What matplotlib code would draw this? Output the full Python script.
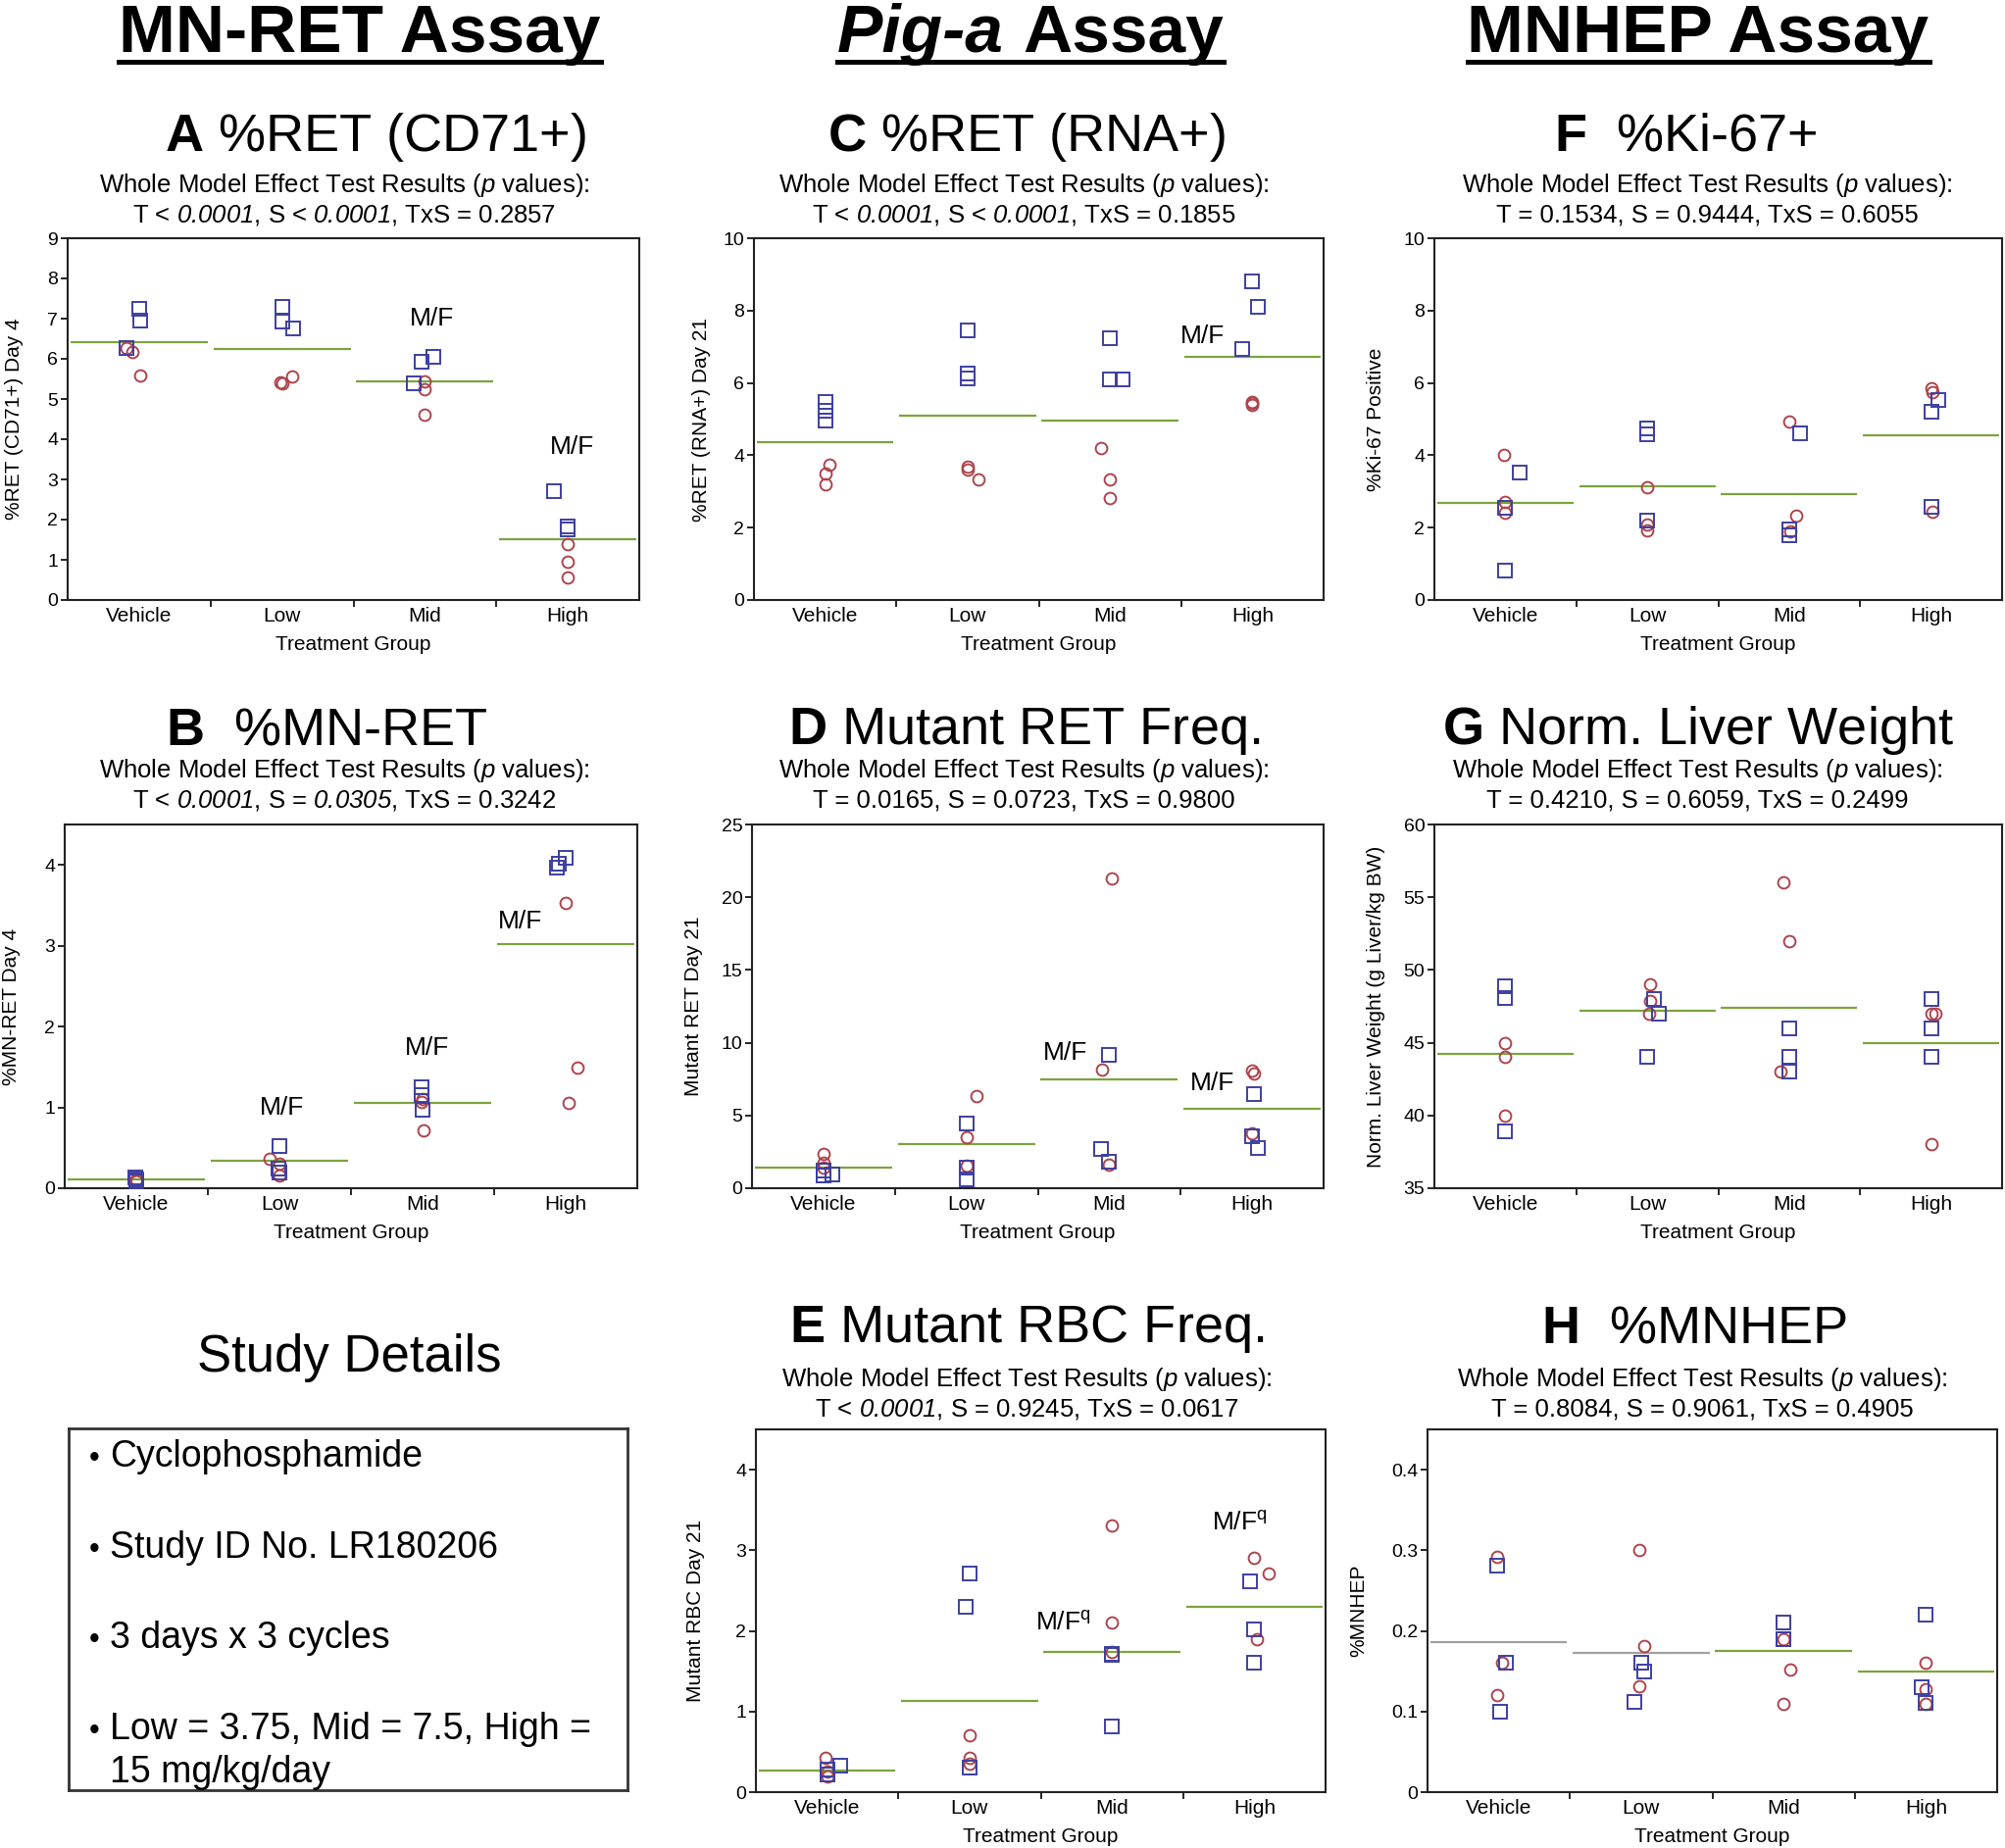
import matplotlib
matplotlib.use('Agg')
import matplotlib.pyplot as plt
from matplotlib.lines import Line2D

plt.rcParams['font.family'] = ['Liberation Sans', 'DejaVu Sans']
plt.rcParams['mathtext.fontset'] = 'custom'
plt.rcParams['mathtext.rm'] = 'Liberation Sans:italic'
plt.rcParams['mathtext.it'] = 'Liberation Sans:italic'
plt.rcParams['mathtext.sf'] = 'Liberation Sans'
plt.rcParams['mathtext.bf'] = 'Liberation Sans:bold'

groups = ['Vehicle', 'Low', 'Mid', 'High']

# A  %RET (CD71+) Day 4
a_male = [[7.25, 6.95, 6.27], [7.30, 6.92, 6.76], [5.93, 6.05, 5.38], [2.70, 1.82, 1.75]]
a_female = [[6.28, 6.17, 5.58], [5.42, 5.57, 5.40], [5.45, 5.24, 4.62], [1.38, 0.94, 0.56]]
a_mean = [6.42, 6.24, 5.43, 1.50]

# B  %MN-RET Day 4
b_male = [[0.13, 0.09, 0.11], [0.52, 0.24, 0.20], [1.25, 1.15, 0.97], [4.09, 3.97, 4.02]]
b_female = [[0.11, 0.10, 0.08], [0.36, 0.30, 0.16], [1.07, 1.10, 0.71], [3.53, 1.49, 1.05]]
b_mean = [0.11, 0.34, 1.05, 3.02]

# C  %RET (RNA+) Day 21
c_male = [[5.48, 5.23, 4.97], [7.44, 6.27, 6.13], [7.23, 6.10, 6.10], [8.82, 8.10, 6.93]]
c_female = [[3.73, 3.50, 3.19], [3.69, 3.60, 3.33], [4.21, 3.33, 2.82], [5.48, 5.40, 5.45]]
c_mean = [4.35, 5.09, 4.97, 6.72]

# D  Mutant RET Day 21
d_male = [[1.20, 0.93, 0.86], [4.48, 1.43, 0.63], [9.16, 2.67, 1.81], [6.50, 3.57, 2.78]]
d_female = [[2.33, 1.76, 1.43], [6.33, 3.50, 1.54], [21.3, 8.14, 1.65], [8.10, 7.87, 3.80]]
d_mean = [1.43, 3.00, 7.49, 5.43]

# E  Mutant RBC Day 21
e_male = [[0.33, 0.28, 0.22], [2.71, 2.30, 0.30], [1.72, 1.70, 0.81], [2.61, 2.02, 1.61]]
e_female = [[0.43, 0.26, 0.20], [0.71, 0.43, 0.35], [3.31, 2.10, 1.74], [2.91, 2.71, 1.90]]
e_mean = [0.27, 1.13, 1.74, 2.30]

# F  %Ki-67 positive
f_male = [[3.51, 2.55, 0.80], [4.75, 4.57, 2.20], [4.61, 1.95, 1.78], [5.52, 5.20, 2.58]]
f_female = [[4.02, 2.71, 2.42], [3.13, 2.10, 1.93], [4.94, 2.33, 1.90], [5.86, 5.74, 2.45]]
f_mean = [2.68, 3.15, 2.92, 4.54]

# G  normalised liver weight
g_male = [[48.9, 48.1, 38.9], [48.0, 47.0, 44.0], [46.0, 44.0, 43.0], [48.0, 46.0, 44.0]]
g_female = [[45.0, 44.0, 40.0], [49.0, 47.9, 47.0], [56.0, 52.0, 43.0], [47.0, 47.0, 38.0]]
g_mean = [44.2, 47.2, 47.4, 45.0]

# H  %MNHEP
h_male = [[0.281, 0.161, 0.100], [0.161, 0.150, 0.112], [0.210, 0.190, 0.190], [0.220, 0.130, 0.111]]
h_female = [[0.292, 0.161, 0.121], [0.300, 0.181, 0.131], [0.190, 0.152, 0.110], [0.161, 0.128, 0.110]]
h_mean = [0.186, 0.173, 0.175, 0.149]

# horizontal jitter of the points (fraction of a group width)
a_jm = [[0, 0.01, -0.09], [0, 0, 0.08], [-0.02, 0.06, -0.08], [-0.1, 0, 0]]
a_jf = [[-0.09, -0.05, 0.01], [-0.01, 0.07, 0], [0, 0, 0], [0, 0, 0]]
b_jm = [[-0.01, 0, 0], [0, -0.01, 0], [-0.01, -0.01, 0], [0, -0.06, -0.05]]
b_jf = [[0, 0, 0], [-0.07, 0, 0], [-0.01, 0, 0.01], [0, 0.08, 0.02]]
c_jm = [[0, 0, 0], [0, 0, 0], [0, 0, 0.09], [0, 0.04, -0.07]]
c_jf = [[0.03, 0, 0], [0, 0, 0.08], [-0.06, 0, 0], [0, 0, 0]]
d_jm = [[0, 0.06, 0], [0, 0, 0], [0, -0.06, 0], [0.01, 0, 0.04]]
d_jf = [[0, 0, 0], [0.07, 0, 0], [0.02, -0.05, 0], [0, 0.01, 0]]
e_jm = [[0.09, 0, 0], [0, -0.03, 0], [0, 0, 0], [-0.03, 0, 0]]
e_jf = [[-0.01, 0, 0], [0, 0, 0], [0, 0, 0], [0, 0.1, 0.02]]
f_jm = [[0.1, 0, 0], [0, 0, 0], [0.08, 0, 0], [0.05, 0, 0]]
f_jf = [[-0.01, 0, 0], [0, 0, 0], [0, 0.05, 0.01], [0, 0.01, 0.01]]
g_jm = [[0, 0, 0], [0.05, 0.08, 0], [0, 0, 0], [0, 0, 0]]
g_jf = [[0, 0, 0], [0.02, 0.02, 0.01], [-0.04, 0, -0.06], [0, 0.03, 0]]
h_jm = [[-0.01, 0.05, 0.01], [0, 0.02, -0.05], [0, 0, 0], [0, -0.03, 0]]
h_jf = [[-0.01, 0.02, -0.01], [-0.01, 0.02, -0.01], [0, 0.05, 0], [0, 0, 0]]

ylabels = {
    'A': '%RET (CD71+) Day 4', 'B': '%MN-RET Day 4', 'C': '%RET (RNA+) Day 21',
    'D': 'Mutant RET Day 21', 'E': 'Mutant RBC Day 21', 'F': '%Ki-67 Positive',
    'G': 'Norm. Liver Weight (g Liver/kg BW)', 'H': '%MNHEP',
}
titles = {
    'A': r'$\mathbf{A}$ %RET (CD71+)', 'B': r'$\mathbf{B}$  %MN-RET',
    'C': r'$\mathbf{C}$ %RET (RNA+)', 'D': r'$\mathbf{D}$ Mutant RET Freq.',
    'E': r'$\mathbf{E}$ Mutant RBC Freq.', 'F': r'$\mathbf{F}$  %Ki-67+',
    'G': r'$\mathbf{G}$ Norm. Liver Weight', 'H': r'$\mathbf{H}$  %MNHEP',
}
pvals = {
    'A': r'T < $0.0001$, S < $0.0001$, TxS = 0.2857',
    'B': r'T < $0.0001$, S = $0.0305$, TxS = 0.3242',
    'C': r'T < $0.0001$, S < $0.0001$, TxS = 0.1855',
    'D': 'T = 0.0165, S = 0.0723, TxS = 0.9800',
    'E': r'T < $0.0001$, S = 0.9245, TxS = 0.0617',
    'F': 'T = 0.1534, S = 0.9444, TxS = 0.6055',
    'G': 'T = 0.4210, S = 0.6059, TxS = 0.2499',
    'H': 'T = 0.8084, S = 0.9061, TxS = 0.4905',
}
yticks = {
    'A': [0, 1, 2, 3, 4, 5, 6, 7, 8, 9], 'B': [0, 1, 2, 3, 4],
    'C': [0, 2, 4, 6, 8, 10], 'D': [0, 5, 10, 15, 20, 25],
    'E': [0, 1, 2, 3, 4], 'F': [0, 2, 4, 6, 8, 10],
    'G': [35, 40, 45, 50, 55, 60], 'H': [0, 0.1, 0.2, 0.3, 0.4],
}
ylims = {'A': (0, 9), 'B': (0, 4.5), 'C': (0, 10), 'D': (0, 25),
         'E': (0, 4.5), 'F': (0, 10), 'G': (35, 60), 'H': (0, 0.45)}
notes = {
    'A': [(3.05, 7.0, 'M/F'), (4.03, 3.8, 'M/F')],
    'B': [(2.02, 0.99, 'M/F'), (3.03, 1.73, 'M/F'), (3.68, 3.3, 'M/F')],
    'C': [(3.65, 7.3, 'M/F')],
    'D': [(2.69, 9.3, 'M/F'), (3.72, 7.2, 'M/F')],
    'E': [(2.66, 2.09, r'M/F$^\mathsf{q}$'), (3.9, 3.33, r'M/F$^\mathsf{q}$')],
}

study_lines = ['Cyclophosphamide', 'Study ID No. LR180206', '3 days x 3 cycles',
               'Low = 3.75, Mid = 7.5, High =', '15 mg/kg/day']

panels = {
    'A': (a_male, a_female, a_mean, a_jm, a_jf),
    'B': (b_male, b_female, b_mean, b_jm, b_jf),
    'C': (c_male, c_female, c_mean, c_jm, c_jf),
    'D': (d_male, d_female, d_mean, d_jm, d_jf),
    'E': (e_male, e_female, e_mean, e_jm, e_jf),
    'F': (f_male, f_female, f_mean, f_jm, f_jf),
    'G': (g_male, g_female, g_mean, g_jm, g_jf),
    'H': (h_male, h_female, h_mean, h_jm, h_jf),
}

W, H = 2045, 1885
# box in pixels: left, top, right, bottom ; y label offset ; title centre x
layout = {
    'A': (69, 243, 652, 612, -45, 383),
    'C': (769, 243, 1350, 612, -44, 1047),
    'F': (1463, 243, 2042, 612, -50, 1719),
    'B': (66, 841, 650, 1212, -45, 333),
    'D': (767, 841, 1350, 1212, -50, 1045),
    'G': (1463, 841, 2042, 1212, -50, 1732),
    'E': (771, 1458, 1352, 1828, -52, 1047),
    'H': (1456, 1458, 2037, 1828, -61, 1728),
}
pv_center = {'A': 351, 'B': 351, 'C': 1044, 'D': 1044, 'E': 1047,
             'F': 1741, 'G': 1731, 'H': 1736}
row_y = {243: (154, 196, 227), 841: (759, 793, 823), 1458: (1369, 1414, 1444)}

BLUE = '#3d3fa0'
RED = '#ad444c'
GREEN = '#7ba43c'
GREY = '#a0a0a0'

fig = plt.figure(figsize=(W / 100, H / 100), dpi=100)


def ftext(x, y, s, **kw):
    return fig.text(x / W, 1 - y / H, s, **kw)


for key, (l, t, r, b, yoff, tx) in layout.items():
    male, female, mean, jm, jf = panels[key]
    ax = fig.add_axes([l / W, 1 - b / H, (r - l) / W, (b - t) / H])
    for i in range(4):
        col = GREEN
        if key == 'H' and i < 2:
            col = GREY
        ax.hlines(mean[i], i + 0.52, i + 1.48, color=col, lw=1.6, zorder=1)
        ax.plot([i + 1 + j for j in jf[i]], female[i], ls='none', marker='o',
                ms=8.5, mfc='none', mec=RED, mew=1.4, zorder=2)
        ax.plot([i + 1 + j for j in jm[i]], male[i], ls='none', marker='s',
                ms=9.5, mfc='none', mec=BLUE, mew=1.4, zorder=3)
    for x, y, s in notes.get(key, []):
        ax.text(x, y, s, fontsize=19, ha='center', va='center')

    ax.set_xlim(0.5, 4.5)
    ax.set_ylim(*ylims[key])
    ax.set_xticks([1, 2, 3, 4])
    ax.set_xticklabels(groups, fontsize=15)
    ax.set_xticks([1.5, 2.5, 3.5], minor=True)
    ax.tick_params(axis='x', which='major', length=0, pad=5)
    ax.tick_params(axis='x', which='minor', length=5, width=1.2, direction='out')
    ax.set_yticks(yticks[key])
    ax.set_yticklabels(['%g' % v for v in yticks[key]], fontsize=14)
    ax.tick_params(axis='y', length=5, width=1.2, direction='out', pad=2)
    for sp in ax.spines.values():
        sp.set_linewidth(1.5)
        sp.set_color('#222222')
    ax.set_xlabel('Treatment Group', fontsize=15, labelpad=7)
    ax.set_ylabel(ylabels[key], fontsize=15)
    ax.yaxis.set_label_coords(yoff / (r - l), 0.5)

    ty, p1, p2 = row_y[t]
    ftext(tx, ty, titles[key], fontsize=39, ha='center', va='baseline')
    ftext(pv_center[key], p1, r'Whole Model Effect Test Results ($p$ values):',
          fontsize=18.5, ha='center', va='baseline')
    ftext(pv_center[key], p2, pvals[key], fontsize=18.5, ha='center', va='baseline')

# column headers, underlined
renderer = fig.canvas.get_renderer()


def underline(x0, x1, y):
    fig.add_artist(Line2D([x0 / W, x1 / W], [1 - y / H, 1 - y / H], lw=3.6, color='black'))


for cx, label in [(367, 'MN-RET Assay'), (1732, 'MNHEP Assay')]:
    tt = ftext(cx, 53, label, fontsize=50, fontweight='bold', ha='center', va='baseline')
    bb = tt.get_window_extent(renderer)
    underline(bb.x0, bb.x1, 63)

t1 = ftext(0, 53, 'Pig-a', fontsize=50, fontweight='bold', style='italic', va='baseline')
t2 = ftext(0, 53, 'Assay', fontsize=50, fontweight='bold', va='baseline')
w1 = t1.get_window_extent(renderer).width
w2 = t2.get_window_extent(renderer).width
gap = 19
x0 = 1051 - (w1 + gap + w2) / 2
t1.set_x(x0 / W)
t2.set_x((x0 + w1 + gap) / W)
underline(x0, x0 + w1 + gap + w2, 63)

# study details box
ftext(356, 1399, 'Study Details', fontsize=38, ha='center', va='baseline')
bx = fig.add_axes([70 / W, 1 - 1826 / H, 570 / W, 369 / H])
bx.set_xticks([])
bx.set_yticks([])
for sp in bx.spines.values():
    sp.set_linewidth(2)
    sp.set_color('#333333')
for i, (s, y) in enumerate(zip(study_lines, [1496, 1589, 1681, 1774, 1818])):
    if i < 4:
        ftext(91, y, '\u2022', fontsize=22, va='baseline')
    ftext(112, y, s, fontsize=27, va='baseline')

fig.savefig('out.png', dpi=100)
